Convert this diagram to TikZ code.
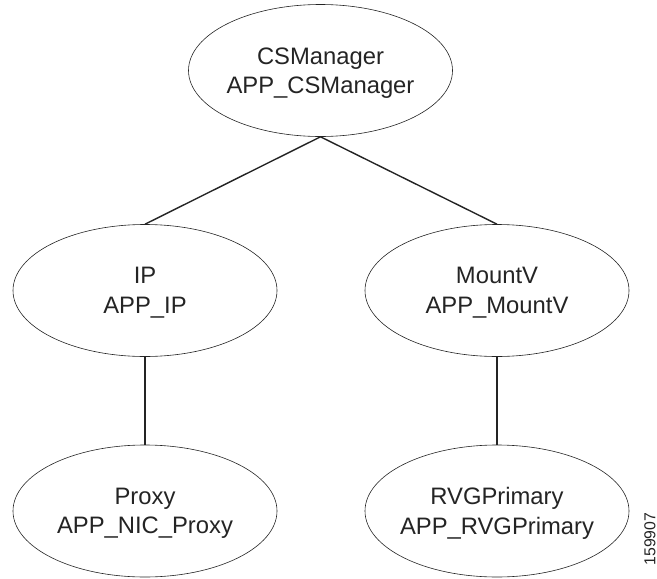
\documentclass[tikz,border=0pt]{standalone}
\usepackage{fontspec}
\setmainfont{Liberation Sans}
\usetikzlibrary{shapes.geometric}
\definecolor{ink}{gray}{0.14}
\tikzset{
 res/.style={draw=ink,line width=0.6pt,ellipse,minimum width=264pt,minimum height=132pt,inner xsep=-40pt,inner ysep=-10pt,align=center,text=ink,text depth=0pt,font=\fontsize{23.8}{29.5}\selectfont},
 link/.style={draw=ink,line width=1.4pt},
 stamp/.style={rotate=90,text=ink,font=\fontsize{15.8}{18}\selectfont,inner sep=0pt}
}
\begin{document}
\begin{tikzpicture}[x=1pt,y=-1pt]
\useasboundingbox (0,0) rectangle (657,579);
\node[res] (cs) at (320.5,70.5) {CSManager\\APP\_CSManager};
\node[res] (ip) at (145,290.5) {IP\\APP\_IP};
\node[res] (mv) at (497,290.5) {MountV\\APP\_MountV};
\node[res] (px) at (145,511) {Proxy\\APP\_NIC\_Proxy};
\node[res] (rv) at (497,511) {RVGPrimary\\APP\_RVGPrimary};
\draw[link] (cs.south) -- (ip.north);
\draw[link] (cs.south) -- (mv.north);
\draw[link] (ip.south) -- (px.north);
\draw[link] (mv.south) -- (rv.north);
\node[stamp] (id) at (650,539) {159907};
\end{tikzpicture}
\end{document}
